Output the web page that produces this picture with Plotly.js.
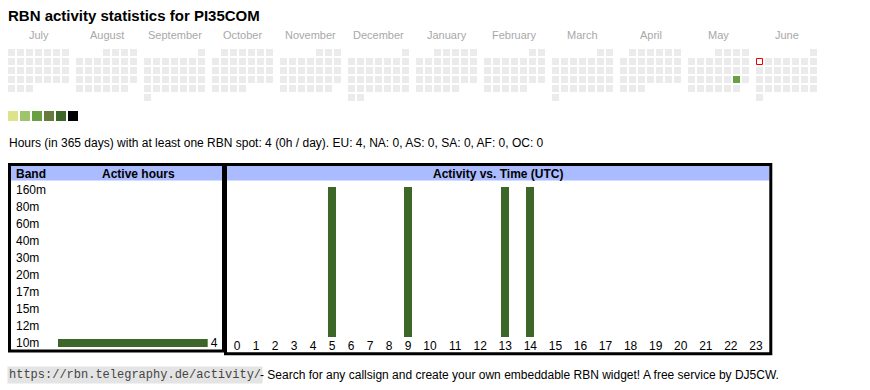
<!DOCTYPE html>
<html>
<head>
<meta charset="utf-8">
<script src="https://cdn.plot.ly/plotly-3.0.1.min.js"></script>
<style>html,body{margin:0;padding:0;background:#fff;}#chart{width:870px;height:390px;}</style>
</head>
<body>
<div id="chart"></div>
<script>
// ---------------- data ----------------
const callsign = 'PI35COM';
const monthNames = ['July','August','September','October','November','December','January','February','March','April','May','June'];
const firstYear = 2024;
const firstMonth = 6; // July (0-based)
const activeDays = ['2025-05-24'];
const activeDayHours = [4];
const todayDate = '2025-06-02';
const levelColors = ['#dce38b', '#9fc46b', '#6a9f43', '#687b3c', '#3d6629', '#000000'];
const levelMaxHours = [1, 2, 4, 8, 16, 24];
const bands = ['160m','80m','60m','40m','30m','20m','17m','15m','12m','10m'];
const bandHours = [0,0,0,0,0,0,0,0,0,4];
const hourLabels = ['0','1','2','3','4','5','6','7','8','9','10','11','12','13','14','15','16','17','18','19','20','21','22','23'];
const hourCounts = [0,0,0,0,0,1,0,0,0,1,0,0,0,1,1,0,0,0,0,0,0,0,0,0];
const totalHours = 4;
const daysSpan = 365;
const continents = ['EU','NA','AS','SA','AF','OC'];
const continentHours = [4,0,0,0,0,0];

// ---------------- geometry (layout only) ----------------
const W = 870, H = 390;
const CAL_X0 = 8, CAL_Y0 = 49, CELL = 7, PITCH = 9, BLOCK = 68;
const EMPTY = '#ebebeb';
const DARK = '#3d6629';
const HEAD = '#aabbff';
const FONT = 'Liberation Sans, Arial, sans-serif';

function levelColor(h){
  for (let i = 0; i < levelMaxHours.length; i++) if (h <= levelMaxHours[i]) return levelColors[i];
  return levelColors[levelColors.length-1];
}
function iso(y,m,d){ return y + '-' + String(m+1).padStart(2,'0') + '-' + String(d).padStart(2,'0'); }

const calX = [], calY = [], calC = [];
let todayX = null, todayY = null;
const monthCenters = [];
for (let m = 0; m < monthNames.length; m++){
  const y = firstYear + Math.floor((firstMonth + m) / 12);
  const mon = (firstMonth + m) % 12;
  const wd = (new Date(Date.UTC(y, mon, 1)).getUTCDay() + 6) % 7;
  const nd = new Date(Date.UTC(y, mon + 1, 0)).getUTCDate();
  monthCenters.push(CAL_X0 + m*BLOCK + (7*PITCH - (PITCH-CELL))/2);
  for (let d = 1; d <= nd; d++){
    const idx = wd + d - 1;
    const row = Math.floor(idx / 7), col = idx % 7;
    const px = CAL_X0 + m*BLOCK + col*PITCH + CELL/2;
    const py = CAL_Y0 + row*PITCH + CELL/2;
    const key = iso(y, mon, d);
    if (key === todayDate){ todayX = px; todayY = py; continue; }
    const ai = activeDays.indexOf(key);
    calX.push(px); calY.push(py);
    calC.push(ai >= 0 ? levelColor(activeDayHours[ai]) : EMPTY);
  }
}

// hour columns: width grows with label length (like an auto-sized table)
const COL_PAD = 12.93, CHAR_W = 6.07, HOUR_LEFT = 227.5;
const hourX = [];
let acc = 0;
hourLabels.forEach(l => { const w = COL_PAD + CHAR_W*l.length; hourX.push(acc + w/2); acc += w; });
const hourTotal = acc;

const traces = [
  { type:'scatter', mode:'markers', x: calX, y: calY, xaxis:'x', yaxis:'y', hoverinfo:'skip',
    marker:{ symbol:'square', size:CELL, color: calC, line:{width:0} } },
  { type:'scatter', mode:'markers', x: todayX === null ? [] : [todayX], y: todayY === null ? [] : [todayY], xaxis:'x', yaxis:'y', hoverinfo:'skip',
    marker:{ symbol:'square', size:CELL-1, color:'#ffffff', line:{width:1, color:'#ee0000'} } },
  { type:'scatter', mode:'markers', x: levelColors.map((c,i)=>13 + 12*i), y: levelColors.map(()=>116), xaxis:'x', yaxis:'y', hoverinfo:'skip',
    marker:{ symbol:'square', size:10, color: levelColors, line:{width:0} } },
  { type:'bar', orientation:'h', x: bandHours, y: bands, xaxis:'x2', yaxis:'y2', width:0.42, hoverinfo:'skip',
    marker:{ color: DARK, line:{width:0} }, text: bandHours.map(v => v > 0 ? String(v) : ''), textposition:'outside', constraintext:'none',
    textfont:{ family:FONT, size:12, color:'#000' }, cliponaxis:false },
  { type:'bar', x: hourX, y: hourCounts, xaxis:'x3', yaxis:'y3', width:8, hoverinfo:'skip',
    marker:{ color: DARK, line:{width:0} } }
];

const ann = [];
function A(x, y, text, opts){ ann.push(Object.assign({ xref:'x', yref:'y', x, y, text, showarrow:false, xanchor:'left', yanchor:'middle',
  font:{ family:FONT, size:12, color:'#000' } }, opts || {})); }

monthNames.forEach((n,i)=>A(monthCenters[i], 35, n, { xanchor:'center', font:{family:FONT, size:11, color:'#a8a8a8'} }));
const summary = 'Hours (in ' + daysSpan + ' days) with at least one RBN spot: ' + totalHours + ' (' + Math.round(totalHours/daysSpan) + 'h / day). ' +
  continents.map((c,i)=> c + ': ' + continentHours[i]).join(', ');
A(7, 142.5, summary, { font:{family:FONT, size:12, color:'#000'} });
A(14, 173.5, '<b>Band</b>');
A(138, 173.5, '<b>Active hours</b>', { xanchor:'center' });
A(498, 173.5, '<b>Activity vs. Time (UTC)</b>', { xanchor:'center' });
bands.forEach(b => ann.push({ xref:'x', yref:'y2', x:14, y:b, text:b, showarrow:false, xanchor:'left', yanchor:'middle',
  font:{ family:FONT, size:12, color:'#000' } }));
A(7, 374.5, 'https://rbn.telegraphy.de/activity/', { bgcolor:'#e4e4e4', borderpad:1, font:{ family:'Liberation Mono, Courier New, monospace', size:12, color:'#444' } });
A(258, 374.5, '- Search for any callsign and create your own embeddable RBN widget! A free service by DJ5CW.', { font:{family:FONT, size:12, color:'#000'} });

const shapes = [
  { type:'rect', xref:'x', yref:'y', x0:11, x1:222, y0:166, y1:180.5, fillcolor:HEAD, line:{width:0}, layer:'below' },
  { type:'rect', xref:'x', yref:'y', x0:227, x1:769.5, y0:166, y1:180.5, fillcolor:HEAD, line:{width:0}, layer:'below' },
  { type:'rect', xref:'x', yref:'y', x0:9.5, x1:223.5, y0:164.5, y1:351, line:{width:3, color:'#000'}, fillcolor:'rgba(0,0,0,0)', layer:'above' },
  { type:'rect', xref:'x', yref:'y', x0:225.5, x1:770.8, y0:164.5, y1:353.8, line:{width:3, color:'#000'}, fillcolor:'rgba(0,0,0,0)', layer:'above' }
];

const hidden = { visible:false, fixedrange:true };
const layout = {
  width: W, height: H, autosize:false,
  margin:{ l:0, r:0, t:0, b:0, pad:0 },
  paper_bgcolor:'#fff', plot_bgcolor:'rgba(0,0,0,0)',
  showlegend:false,
  title:{ text:'<b>RBN activity statistics for ' + callsign + '</b>', x: 8/W, xref:'paper', xanchor:'left', y: 1 - 16/H, yanchor:'middle',
    font:{ family:FONT, size:15, color:'#000' } },
  xaxis: Object.assign({ range:[0, W], domain:[0,1] }, hidden),
  yaxis: Object.assign({ range:[H, 0], domain:[0,1] }, hidden),
  xaxis2: { domain:[58/W, 207.7/W], range:[0, Math.max(...bandHours)], anchor:'y2', showgrid:false, zeroline:false, showticklabels:false, showline:false, ticks:'', fixedrange:true },
  yaxis2: { domain:[1-351.5/H, 1-181.5/H], type:'category', categoryorder:'array', categoryarray: bands, range:[bands.length-0.5, -0.5], anchor:'x2',
    showgrid:false, zeroline:false, showticklabels:false, showline:false, ticks:'', fixedrange:true },
  xaxis3: { domain:[HOUR_LEFT/W, (HOUR_LEFT+hourTotal)/W], range:[0, hourTotal], anchor:'y3', showgrid:false, zeroline:false, showline:false, ticks:'',
    tickmode:'array', tickvals: hourX, ticktext: hourLabels, tickfont:{ family:FONT, size:12, color:'#000' }, fixedrange:true },
  yaxis3: { domain:[1-337/H, 1-187/H], range:[0, Math.max(...hourCounts)], anchor:'x3', showgrid:false, zeroline:false, showticklabels:false, showline:false, ticks:'', fixedrange:true },
  bargap:0,
  annotations: ann,
  shapes: shapes
};

Plotly.newPlot('chart', traces, layout, { staticPlot:true, displayModeBar:false });
</script>
</body>
</html>
